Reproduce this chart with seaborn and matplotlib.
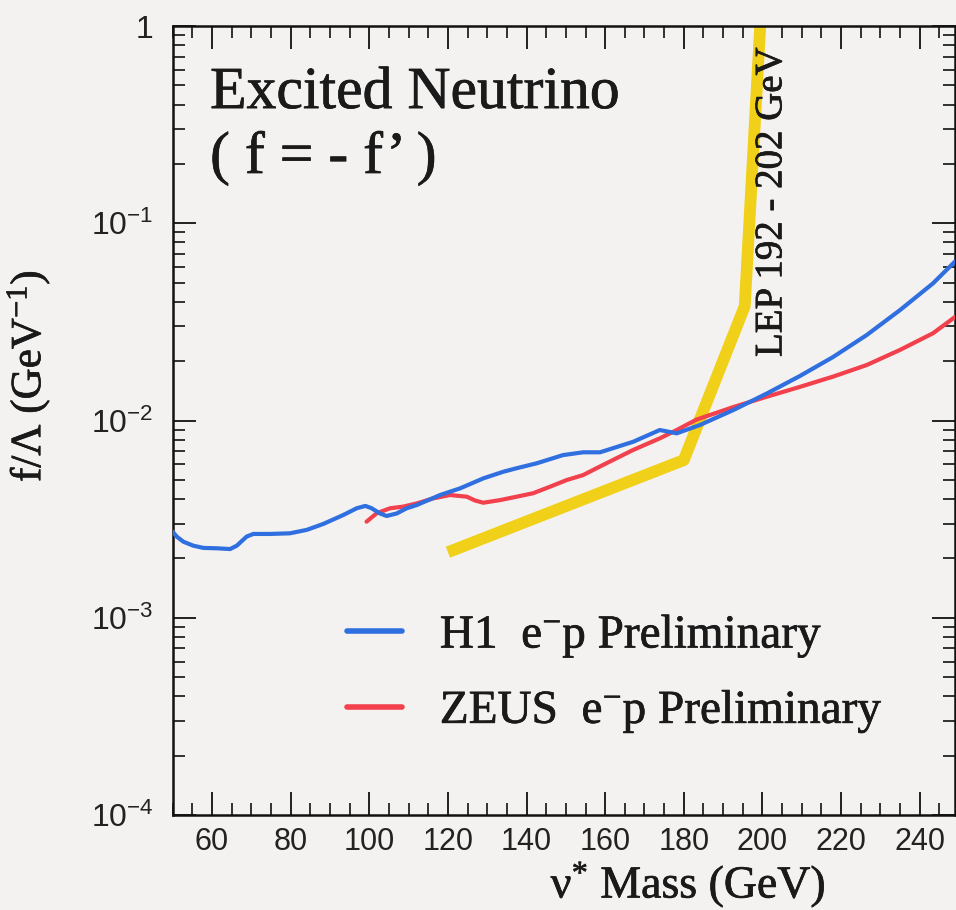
import matplotlib
matplotlib.use("Agg")
import matplotlib.pyplot as plt
import matplotlib.patheffects as pe
import numpy as np
import pandas as pd
import seaborn as sns
from matplotlib.ticker import FixedLocator, FixedFormatter, MultipleLocator, LogLocator, NullFormatter
from matplotlib.lines import Line2D

# ---- data -------------------------------------------------------------
# H1 e-p upper limit on f/Lambda vs excited neutrino mass
h1_mass = [50.0, 51.0, 52.7, 55.2, 57.8, 61.2, 64.6, 66.3, 68.8, 70.5, 74.7,
           79.8, 84.1, 88.3, 93.4, 96.8, 99.0, 100.6, 102.7, 104.4, 107.0,
           109.5, 112.1, 118.0, 123.1, 129.0, 134.1, 137.5, 142.6, 149.3,
           154.4, 158.7, 167.1, 173.9, 178.2, 184.1, 192.6, 201.1, 209.5,
           218.0, 226.5, 235.0, 243.4, 249.0]
h1_limit = [2.73e-3, 2.58e-3, 2.43e-3, 2.32e-3, 2.26e-3, 2.25e-3, 2.23e-3,
            2.32e-3, 2.58e-3, 2.66e-3, 2.66e-3, 2.68e-3, 2.79e-3, 2.99e-3,
            3.32e-3, 3.59e-3, 3.69e-3, 3.59e-3, 3.38e-3, 3.28e-3, 3.38e-3,
            3.59e-3, 3.73e-3, 4.19e-3, 4.53e-3, 5.09e-3, 5.50e-3, 5.73e-3,
            6.07e-3, 6.68e-3, 6.90e-3, 6.90e-3, 7.80e-3, 8.95e-3, 8.61e-3,
            9.49e-3, 1.13e-2, 1.37e-2, 1.68e-2, 2.10e-2, 2.71e-2, 3.63e-2,
            4.96e-2, 6.40e-2]

# ZEUS e-p upper limit
zeus_mass = [99.3, 101.9, 105.3, 108.6, 112.1, 116.3, 120.5, 124.8, 126.9,
             129.0, 133.3, 137.5, 141.7, 146.0, 150.2, 154.4, 158.7, 167.1,
             173.9, 178.2, 183.2, 192.6, 201.1, 209.5, 218.0, 226.5, 235.0,
             243.4, 249.0]
zeus_limit = [3.07e-3, 3.39e-3, 3.59e-3, 3.66e-3, 3.80e-3, 4.03e-3, 4.19e-3,
              4.11e-3, 3.93e-3, 3.83e-3, 3.95e-3, 4.11e-3, 4.28e-3, 4.62e-3,
              4.99e-3, 5.29e-3, 5.85e-3, 7.09e-3, 8.12e-3, 8.95e-3, 1.01e-2,
              1.17e-2, 1.32e-2, 1.48e-2, 1.67e-2, 1.91e-2, 2.28e-2, 2.77e-2,
              3.35e-2]

# LEP 192-202 GeV limit
lep_mass = [120.0, 180.0, 195.5, 199.5]
lep_limit = [2.15e-3, 6.3e-3, 3.8e-2, 1.05]

y_ticks = [1e-4, 1e-3, 1e-2, 1e-1, 1.0]
y_tick_labels = ["10$^{-4}$", "10$^{-3}$", "10$^{-2}$", "10$^{-1}$", "1"]

series_labels = ["H1  e$^{-}$p Preliminary", "ZEUS  e$^{-}$p Preliminary"]

# ---- style ------------------------------------------------------------
sns.set_style("ticks")
plt.rcParams["font.family"] = ["Liberation Serif", "DejaVu Serif"]
plt.rcParams["mathtext.default"] = "regular"

bg = "#f4f2f0"
ink = "#1a1a1a"
c_h1 = "#2f6fe0"
c_zeus = "#f2404c"
c_lep = "#f0d018"
heavy = [pe.withStroke(linewidth=0.5, foreground=ink)]

fig = plt.figure(figsize=(9.56, 9.10), dpi=100, facecolor=bg)
ax = fig.add_axes([0.1807, 0.1044, 0.8183, 0.8670], facecolor=bg)

h1 = pd.DataFrame({"mass": h1_mass, "limit": h1_limit})
zeus = pd.DataFrame({"mass": zeus_mass, "limit": zeus_limit})
lep = pd.DataFrame({"mass": lep_mass, "limit": lep_limit})

sns.lineplot(data=lep, x="mass", y="limit", ax=ax, color=c_lep, linewidth=8.5,
             sort=False, estimator=None, solid_capstyle="butt", zorder=2)
sns.lineplot(data=zeus, x="mass", y="limit", ax=ax, color=c_zeus, linewidth=3.0,
             sort=False, estimator=None, zorder=3)
sns.lineplot(data=h1, x="mass", y="limit", ax=ax, color=c_h1, linewidth=3.0,
             sort=False, estimator=None, zorder=4)

ax.set_yscale("log")
ax.set_xlim(50, 249)
ax.set_ylim(1e-4, 1)

# ---- axes, ticks ------------------------------------------------------
for s in ax.spines.values():
    s.set_linewidth(1.8)
    s.set_color("#111111")
    s.set_visible(True)

ax.xaxis.set_major_locator(MultipleLocator(20))
ax.xaxis.set_minor_locator(MultipleLocator(5))
ax.yaxis.set_major_locator(FixedLocator(y_ticks))
ax.yaxis.set_major_formatter(FixedFormatter(y_tick_labels))
ax.yaxis.set_minor_locator(LogLocator(base=10, subs=np.arange(2, 10)))
ax.yaxis.set_minor_formatter(NullFormatter())

ax.tick_params(which="both", direction="in", top=True, right=True,
               color="#111111")
ax.tick_params(which="major", length=16.5, width=1.3)
ax.tick_params(which="minor", length=8.5, width=1.2)
ax.tick_params(axis="x", which="major", pad=9, labelsize=22)
ax.tick_params(axis="y", which="major", pad=14, labelsize=23)
for lab in ax.get_xticklabels() + ax.get_yticklabels():
    lab.set_family(["Liberation Sans", "DejaVu Sans"])
    lab.set_color("#222222")

ax.set_xlabel("ν$^{*}$ Mass (GeV)", fontsize=33, color=ink, path_effects=heavy)
ax.xaxis.set_label_coords(0.659, -0.056)
ax.set_ylabel("f/Λ (GeV$^{-1}$)", fontsize=31, color=ink, path_effects=heavy)
ax.yaxis.set_label_coords(-0.155, 0.556)

# ---- annotations ------------------------------------------------------
ax.text(0.0477, 0.896, "Excited Neutrino", transform=ax.transAxes,
        fontsize=43, color=ink, ha="left", va="baseline", path_effects=heavy)
ax.text(0.0477, 0.8137, "( f = - f’ )", transform=ax.transAxes,
        fontsize=43, color=ink, ha="left", va="baseline", path_effects=heavy)
ax.text(202.4, 0.128, "LEP 192 - 202 GeV", rotation=90, fontsize=28,
        color=ink, ha="center", va="center", path_effects=heavy)

handles = [Line2D([], [], color=c_h1, linewidth=4.0),
           Line2D([], [], color=c_zeus, linewidth=4.0)]
leg = ax.legend(handles, series_labels, loc="upper left",
                bbox_to_anchor=(0.2228, 0.2563), frameon=False, fontsize=34,
                handlelength=1.165, handletextpad=0.8, labelspacing=0.6,
                borderaxespad=0.0, borderpad=0.0)
for t in leg.get_texts():
    t.set_color(ink)
    t.set_path_effects(heavy)

fig.savefig("out.png", dpi=100, facecolor=bg)
